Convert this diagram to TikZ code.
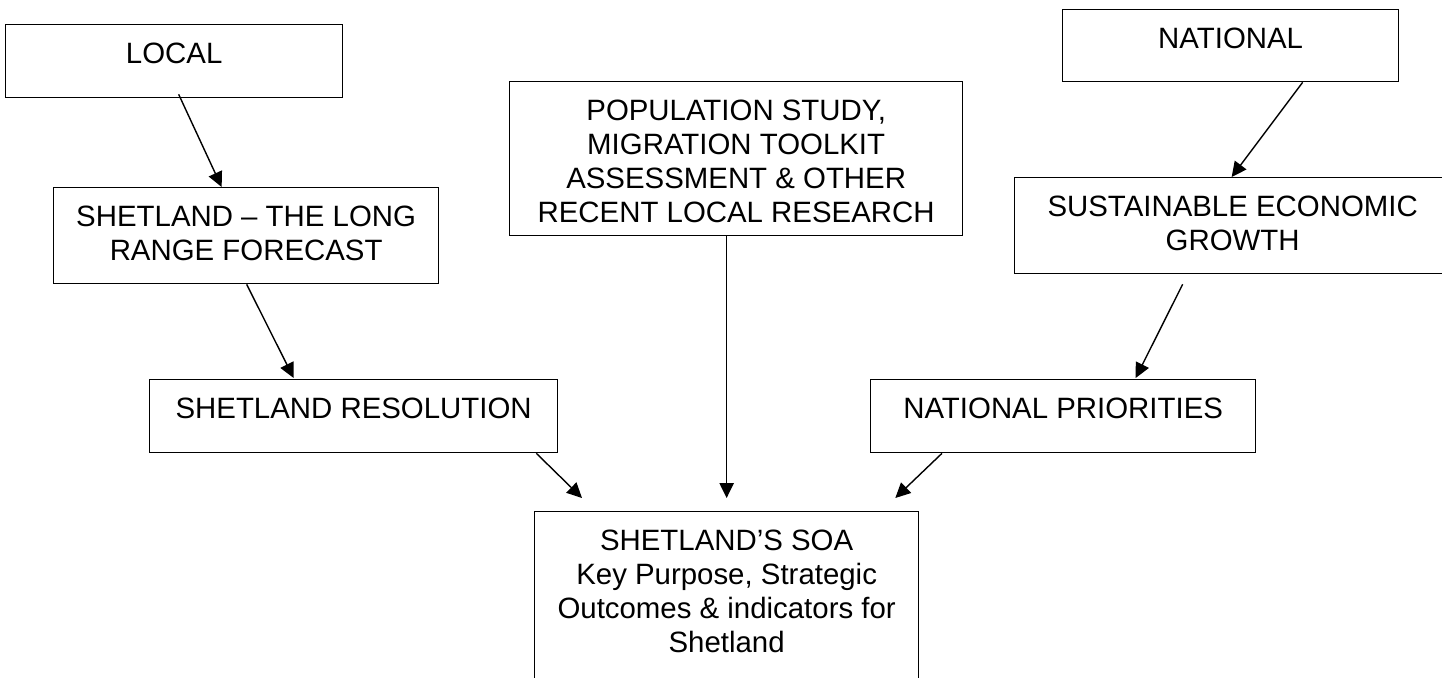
\documentclass[tikz,border=0pt]{standalone}
\usepackage{fontspec}
\setmainfont{Liberation Sans}
\usetikzlibrary{arrows.meta}

\begin{document}
\begin{tikzpicture}[x=0.5pt,y=-0.5pt,
    box/.style={draw, line width=0.65pt, anchor=north west, inner sep=0pt},
    lbl/.style={anchor=north, align=center, inner sep=0pt, yshift=-9.5pt, font=\fontsize{14.7}{17}\selectfont},
    link/.style={line width=0.7pt, -{Triangle[length=7.5pt,width=7.2pt]}}]
  \useasboundingbox (0,0) rectangle (1442,677);
  \clip (0,0) rectangle (1442,677);

  \node[box, minimum width=168.5pt, minimum height=36.5pt, label={[lbl]north:LOCAL}] (local) at (5,24) {};
  \node[box, minimum width=192.5pt, minimum height=48pt, label={[lbl]north:{SHETLAND – THE LONG\\RANGE FORECAST}}] (slrf) at (53,187) {};
  \node[box, minimum width=204pt, minimum height=36.5pt, label={[lbl]north:SHETLAND RESOLUTION}] (sr) at (149,379) {};
  \node[box, minimum width=226.5pt, minimum height=77pt, label={[lbl]north:{POPULATION STUDY,\\MIGRATION TOOLKIT\\ASSESSMENT \& OTHER\\RECENT LOCAL RESEARCH}}] (pop) at (509,81) {};
  \node[box, minimum width=168pt, minimum height=36pt, label={[lbl]north:NATIONAL}] (nat) at (1062,9) {};
  \node[box, minimum width=218pt, minimum height=48pt, label={[lbl]north:{SUSTAINABLE ECONOMIC\\GROWTH}}] (seg) at (1014,177) {};
  \node[box, minimum width=192.5pt, minimum height=36.5pt, label={[lbl]north:NATIONAL PRIORITIES}] (np) at (870,379) {};
  \node[box, minimum width=192pt, minimum height=90pt, label={[lbl]north:{SHETLAND’S SOA\\Key Purpose, Strategic\\Outcomes \& indicators for\\Shetland}}] (soa) at (534,511) {};

  \draw[link] ([shift={(4.5,-4)}]local.south) -- ([shift={(-24.5,0)}]slrf.north);
  \draw[link] ([shift={(0.5,0)}]slrf.south) -- ([shift={(-60,-1)}]sr.north);
  \draw[link] ([shift={(-9.5,0)}]pop.south) -- ([shift={(0,-13)}]soa.north);
  \draw[link] ([shift={(-22,0)}]sr.south east) -- ([shift={(48,-13)}]soa.north west);
  \draw[link] ([shift={(72,0)}]np.south west) -- ([shift={(-24,-13)}]soa.north east);
  \draw[link] ([shift={(72,0)}]nat.south) -- ([shift={(-1,0)}]seg.north);
  \draw[link] ([shift={(-50,10)}]seg.south) -- ([shift={(72.5,-1)}]np.north);
\end{tikzpicture}
\end{document}
